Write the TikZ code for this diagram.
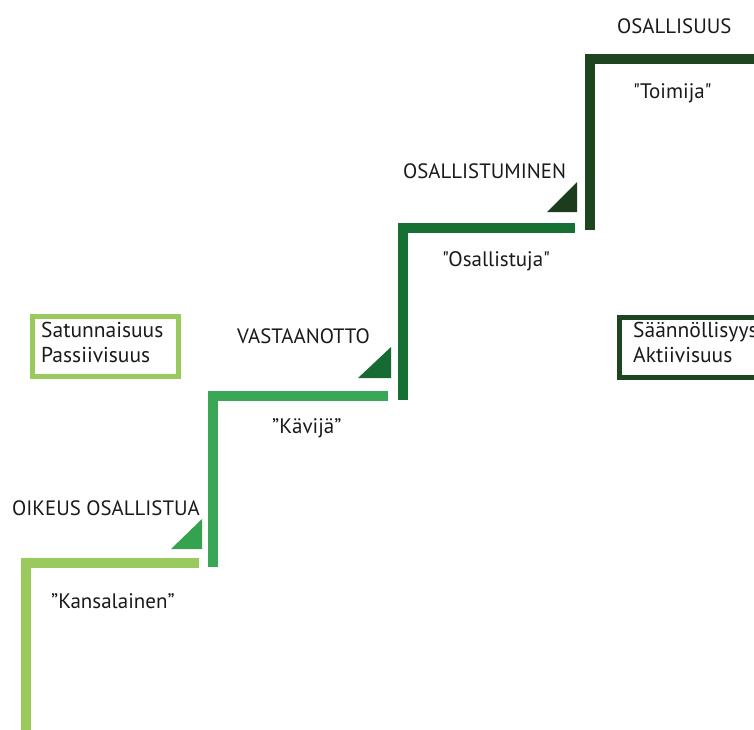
\documentclass[tikz,border=0pt]{standalone}
\usepackage{fontspec}
\setmainfont{PT Sans}[Ligatures=TeXOff]
\definecolor{gA}{HTML}{9ACA5E}
\definecolor{gB}{HTML}{3AA756}
\definecolor{gC}{HTML}{167034}
\definecolor{gD}{HTML}{1D4520}
\definecolor{tA}{HTML}{35A250}
\definecolor{tB}{HTML}{156B31}
\definecolor{tC}{HTML}{1B3D1E}
\definecolor{txt}{HTML}{1A1A1A}
\tikzset{
  stair/.style={line width=10pt, line join=miter},
  steplabel/.style={font=\fontsize{20.8}{22}\selectfont, text=txt, inner sep=0pt, anchor=base west},
  role/.style={font=\fontsize{21}{23}\selectfont, text=txt, inner sep=0pt, anchor=base west},
  infobox/.style={line width=4.5pt, minimum width=146pt, minimum height=60pt, inner sep=0pt, anchor=north west},
  boxtext/.style={font=\fontsize{21.5}{25}\selectfont, text=txt, inner sep=0pt, anchor=base west}
}
\begin{document}
\begin{tikzpicture}[x=1pt,y=-1pt]
\useasboundingbox (0,0) rectangle (754,729);
\clip (0,0) rectangle (754,729);
% stair steps
\coordinate (s1a) at (26,740); \coordinate (s1b) at (26,562.5); \coordinate (s1c) at (199,562.5);
\coordinate (s2a) at (213,567); \coordinate (s2b) at (213,395.5); \coordinate (s2c) at (388,395.5);
\coordinate (s3a) at (402.5,400); \coordinate (s3b) at (402.5,228); \coordinate (s3c) at (575,228);
\coordinate (s4a) at (590,230); \coordinate (s4b) at (590,59); \coordinate (s4c) at (770,59);
\draw[stair, gA] (s1a) -- (s1b) -- (s1c);
\draw[stair, gB] (s2a) -- (s2b) -- (s2c);
\draw[stair, gC] (s3a) -- (s3b) -- (s3c);
\draw[stair, gD] (s4a) -- (s4b) -- (s4c);
% triangles
\fill[tA] (171,549) -- (202,549) -- (202,519) -- cycle;
\fill[tB] (358,378) -- (391,378) -- (391,347) -- cycle;
\fill[tC] (547,212) -- (577,212) -- (577,182) -- cycle;
% captions
\node[steplabel] (c1) at (12,515) {OIKEUS OSALLISTUA};
\node[steplabel] (c2) at (237,343) {VASTAANOTTO};
\node[steplabel] (c3) at (403,178) {OSALLISTUMINEN};
\node[steplabel] (c4) at (617,33) {OSALLISUUS};
% roles
\node[role] (r1) at (51,608) {”Kansalainen”};
\node[role] (r2) at (272,433) {”Kävijä”};
\node[role] (r3) at (442,266) {"Osallistuja"};
\node[role] (r4) at (633,98) {"Toimija"};
% boxes
\node[infobox, draw=gA] (b1) at (30,314) {};
\node[boxtext] (b1t) at (41,337) {Satunnaisuus};
\node[boxtext] (b1u) at (41,362) {Passiivisuus};
\node[infobox, draw=gD] (b2) at (617,315) {};
\node[boxtext] (b2t) at (633,337) {Säännöllisyys};
\node[boxtext] (b2u) at (633,362) {Aktiivisuus};
\end{tikzpicture}
\end{document}
